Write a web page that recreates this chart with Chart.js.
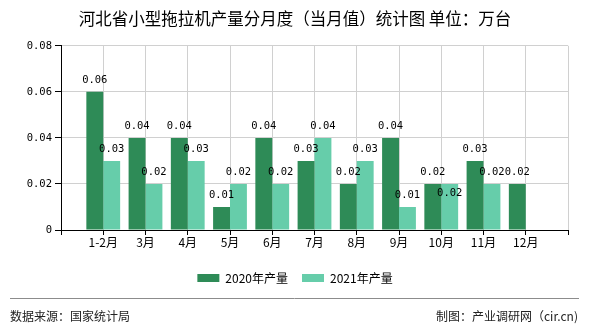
<!DOCTYPE html>
<html>
<head>
<meta charset="utf-8">
<script src="https://cdn.jsdelivr.net/npm/chart.js@4/dist/chart.umd.min.js"></script>
<style>
  html, body { margin: 0; padding: 0; background: #fff; }
  #wrap { width: 590px; height: 330px; }
</style>
</head>
<body>
<div id="wrap"><canvas id="chart" width="590" height="330"></canvas></div>
<script>
// months on the x axis
const categories = ["1-2月", "3月", "4月", "5月", "6月", "7月", "8月", "9月", "10月", "11月", "12月"]
// output, 10k units
const output2020 = [0.06, 0.04, 0.04, 0.01, 0.04, 0.03, 0.02, 0.04, 0.02, 0.03, 0.02]
const output2021 = [0.03, 0.02, 0.03, 0.02, 0.02, 0.04, 0.03, 0.01, 0.02, 0.02, null]
const yTicks = [0, 0.02, 0.04, 0.06, 0.08]

const monoFont = "'DejaVu Sans Mono', 'Liberation Mono', monospace"
const cjkFont = "'Noto Sans CJK SC', 'Noto Sans', sans-serif"

// value labels over the bars, pushed down when two collide
const barLabels = {
  id: "barLabels",
  afterDatasetsDraw(chart) {
    const ctx = chart.ctx
    ctx.save()
    ctx.font = "10.5px " + monoFont
    ctx.fillStyle = "#000"
    ctx.textAlign = "center"
    ctx.textBaseline = "middle"
    const placed = []
    chart.data.datasets.forEach((ds, di) => {
      chart.getDatasetMeta(di).data.forEach((bar, i) => {
        const v = ds.data[i]
        if (v == null) return
        const txt = v.toFixed(2)
        const w = ctx.measureText(txt).width
        let y = bar.y - 12
        const hit = placed.some((p) => Math.abs(p.x - bar.x) < (p.w + w) / 2 && Math.abs(p.y - y) < 10)
        if (hit) y += 21
        placed.push({ x: bar.x, y, w })
        ctx.fillText(txt, bar.x, y)
      })
    })
    ctx.restore()
  },
}

// source line at the bottom
const footer = {
  id: "footer",
  afterDraw(chart) {
    const ctx = chart.ctx
    ctx.save()
    ctx.strokeStyle = "#8c8c8c"
    ctx.lineWidth = 1
    ctx.beginPath()
    ctx.moveTo(10, 298.5)
    ctx.lineTo(579, 298.5)
    ctx.stroke()
    ctx.fillStyle = "#222"
    ctx.font = "12px " + cjkFont
    ctx.textBaseline = "middle"
    ctx.textAlign = "left"
    ctx.fillText("数据来源：国家统计局", 10, 316)
    ctx.textAlign = "right"
    ctx.fillText("制图：产业调研网（cir.cn)", 578, 316)
    ctx.restore()
  },
}

new Chart(document.getElementById("chart"), {
  type: "bar",
  data: {
    labels: categories.map((c, i) => i + 1),
    datasets: [
      {
        label: "2020年产量",
        data: output2020,
        backgroundColor: "#2e8b57",
        categoryPercentage: 0.8,
        barPercentage: 1,
      },
      {
        label: "2021年产量",
        data: output2021,
        backgroundColor: "#66cdaa",
        categoryPercentage: 0.8,
        barPercentage: 1,
      },
    ],
  },
  options: {
    responsive: false,
    animation: false,
    layout: { padding: { left: 22, right: 22, top: 0, bottom: 36 } },
    plugins: {
      title: {
        display: true,
        text: "河北省小型拖拉机产量分月度（当月值）统计图 单位：万台",
        color: "#000",
        font: { family: cjkFont, size: 16.5, weight: "normal" },
        padding: { top: 9, bottom: 17 },
      },
      legend: {
        position: "bottom",
        labels: {
          boxWidth: 22,
          boxHeight: 8,
          color: "#000",
          padding: 14,
          font: { family: cjkFont, size: 12 },
        },
      },
      tooltip: { enabled: false },
    },
    scales: {
      x: {
        type: "linear",
        offset: false,
        min: 0,
        max: categories.length + 1,
        afterBuildTicks(scale) {
          scale.ticks = []
          for (let i = 0; i <= categories.length + 1; i++) scale.ticks.push({ value: i })
        },
        afterFit(scale) { scale.height = 28 },
        ticks: {
          autoSkip: false,
          maxRotation: 0,
          padding: 0,
          color: "#000",
          font: { family: cjkFont, size: 12 },
          callback: (v) => categories[v - 1] || "",
        },
        grid: { offset: false, color: "#d0d0d0", tickColor: "#000", tickLength: 5 },
        border: { color: "#000", width: 1 },
      },
      y: {
        min: 0,
        max: 0.08,
        afterBuildTicks(scale) { scale.ticks = yTicks.map((v) => ({ value: v })) },
        afterFit(scale) { scale.width = 39 },
        ticks: {
          padding: 3,
          color: "#000",
          font: { family: monoFont, size: 10.5 },
          callback: (v) => (v === 0 ? "0" : v.toFixed(2)),
        },
        grid: { color: "#d0d0d0", tickColor: "#000", tickLength: 6 },
        border: { color: "#000", width: 1 },
      },
    },
  },
  plugins: [barLabels, footer],
})
</script>
</body>
</html>
